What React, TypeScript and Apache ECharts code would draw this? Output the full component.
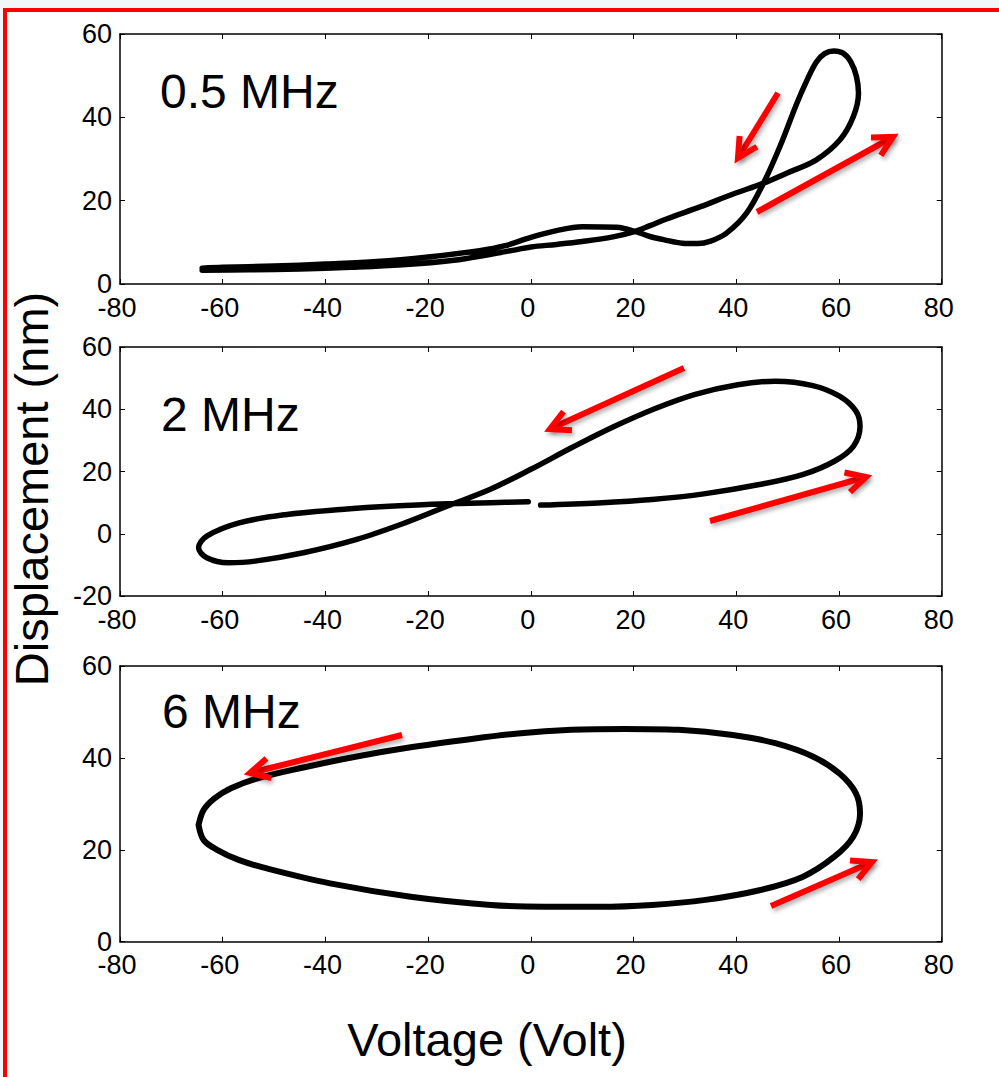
import React, { useEffect, useRef } from "react";
import * as echarts from "echarts";

// ---------- data ----------
// 0.5 MHz loop (voltage in V, displacement in nm), in acquisition order
const volt05 = [-64, -55, -45, -35, -25, -15, -8, -3, 0, 5, 10, 16, 20, 23.2, 26.4, 32.9, 39.4, 45.3, 49.8, 55.6, 60.2, 62.8, 63.8, 63.4, 62.3, 60.8, 59, 57.2, 55.6, 53.8, 51.8, 48.5, 45.3, 42, 38.1, 35, 32.5, 29.5, 26, 23.2, 20.6, 16.7, 10, 5, 0, -5, -10, -20, -30, -40, -50, -60, -64];
const disp05 = [3.3, 3.4, 3.6, 4.0, 4.6, 5.7, 7.1, 8.2, 8.9, 9.5, 10.2, 11.3, 12.5, 14.0, 15.6, 18.5, 21.6, 24.2, 26.6, 29.8, 34.6, 40.2, 45.8, 49.8, 53.3, 55.4, 55.9, 55.3, 53.3, 49, 43.4, 33, 24.2, 17, 12.2, 10.3, 9.7, 9.8, 10.6, 11.4, 12.5, 13.6, 13.75, 12.8, 11.2, 9.2, 8.0, 6.5, 5.4, 4.8, 4.3, 4.0, 3.8];

// 2 MHz loop
const volt2 = [1.9, 13.1, 23.6, 34.0, 44.5, 52.9, 59.1, 62.8, 64.1, 63.3, 60.1, 54.9, 47.6, 40.3, 32.0, 24.0, 16.0, 8.0, 0.0, -8.0, -16.1, -24.5, -33.9, -44.3, -53.7, -58.9, -63.1, -64.7, -63.1, -56.8, -47.5, -37.0, -26.6, -16.1, -7.8, -0.5];
const disp2 = [9.2, 9.9, 11.0, 12.9, 15.8, 19.0, 23.3, 28.1, 34.5, 39.4, 44.2, 47.6, 49.0, 47.9, 44.8, 40.1, 34.3, 27.7, 20.7, 14.2, 9.0, 3.5, -1.8, -6.1, -8.8, -9.3, -7.7, -4.5, -0.75, 3.5, 6.2, 7.8, 8.9, 9.6, 9.95, 10.3];

// 6 MHz loop
const volt6 = [-64.7, -63.7, -61.1, -56.9, -51.6, -39.1, -23.4, -7.8, 2.7, 13.2, 23.6, 34.0, 44.5, 52.9, 59.1, 62.8, 64.1, 63.3, 60.1, 54.9, 47.6, 39.3, 28.8, 18.4, 7.9, -2.5, -13.0, -23.4, -33.9, -44.3, -53.7, -58.4, -61.6, -63.7, -64.7];
const disp6 = [25.4, 22.1, 20.0, 17.8, 16.0, 12.7, 9.8, 8.0, 7.6, 7.6, 8.0, 9.1, 11.2, 14.1, 18.5, 22.9, 27.9, 32.3, 36.6, 40.3, 43.2, 45.0, 46.1, 46.3, 46.1, 45.3, 43.9, 42.3, 40.3, 37.9, 35.4, 33.4, 31.2, 28.7, 25.4];

const panelTitles = ["0.5 MHz", "2 MHz", "6 MHz"];
const yMins = [0, -20, 0];
const yMaxs = [60, 60, 60];
const xMin = -80;
const xMax = 80;
const tickStep = 20;
const xName = "Voltage (Volt)";
const yName = "Displacement (nm)";

// ---------- layout / style ----------
const FONT = "'Liberation Sans', Arial, Helvetica, sans-serif";
const GRID_LEFT = 120;
const GRID_WIDTH = 821.7;
const gridBoxes = [
  { top: 34, height: 250 },
  { top: 347, height: 249 },
  { top: 666, height: 275.7 },
];
const lineWidths = [5.5, 5.5, 6];
const titlePos = [
  [160, 91],
  [161, 414.5],
  [162, 711],
];
// arrows: [tail, tip] in pixels
const arrows: number[][][] = [
  [[778, 93], [738, 158]],
  [[757, 212], [893, 137]],
  [[684, 368], [550, 429]],
  [[710, 521], [866, 477]],
  [[402, 735], [250, 773]],
  [[771, 906], [872, 862]],
];

function zip(a: number[], b: number[]) {
  return a.map((v, i) => [v, b[i]]);
}

function arrowHead(tail: number[], tip: number[], len = 22, ang = 0.48) {
  const a = Math.atan2(tail[1] - tip[1], tail[0] - tip[0]);
  return [
    [tip[0] + len * Math.cos(a + ang), tip[1] + len * Math.sin(a + ang)],
    [tip[0], tip[1]],
    [tip[0] + len * Math.cos(a - ang), tip[1] + len * Math.sin(a - ang)],
  ];
}

function buildOption() {
  const seriesData = [zip(volt05, disp05), zip(volt2, disp2), zip(volt6, disp6)];
  const grid: any[] = [];
  const xAxis: any[] = [];
  const yAxis: any[] = [];
  const series: any[] = [];
  const axisLine = { show: true, onZero: false, lineStyle: { color: "#000", width: 1.5 } };
  const axisTick = { show: true, inside: true, length: 5, lineStyle: { color: "#000", width: 1 } };
  gridBoxes.forEach((g, i) => {
    grid.push({ left: GRID_LEFT, top: g.top, width: GRID_WIDTH, height: g.height, show: false, containLabel: false });
    xAxis.push({
      type: "value", gridIndex: i, min: xMin, max: xMax, interval: tickStep, position: "bottom",
      axisLine, axisTick, splitLine: { show: false },
      axisLabel: { show: true, color: "#000", fontSize: 27, fontFamily: FONT, margin: 10, padding: [0, 6, 0, 0] },
    });
    xAxis.push({
      type: "value", gridIndex: i, min: xMin, max: xMax, interval: tickStep, position: "top",
      axisLine, axisTick, splitLine: { show: false }, axisLabel: { show: false },
    });
    yAxis.push({
      type: "value", gridIndex: i, min: yMins[i], max: yMaxs[i], interval: tickStep, position: "left",
      axisLine, axisTick, splitLine: { show: false },
      axisLabel: { show: true, color: "#000", fontSize: 27, fontFamily: FONT, margin: 8, padding: [4, 0, 0, 0] },
    });
    yAxis.push({
      type: "value", gridIndex: i, min: yMins[i], max: yMaxs[i], interval: tickStep, position: "right",
      axisLine, axisTick, splitLine: { show: false }, axisLabel: { show: false },
    });
    series.push({
      type: "line", xAxisIndex: 2 * i, yAxisIndex: 2 * i, data: seriesData[i],
      symbol: "none", showSymbol: false, smooth: 0.35, silent: true,
      lineStyle: { color: "#000", width: lineWidths[i], cap: "round", join: "round" },
    });
  });

  const graphic: any[] = [];
  panelTitles.forEach((t, i) => {
    graphic.push({
      type: "text", x: titlePos[i][0], y: titlePos[i][1], silent: true,
      style: { text: t, fill: "#000", fontSize: 48, fontFamily: FONT, align: "left", textAlign: "left", verticalAlign: "middle", textVerticalAlign: "middle" },
    });
  });
  graphic.push({
    type: "text", x: 487, y: 1039, silent: true,
    style: { text: xName, fill: "#000", fontSize: 47, fontFamily: FONT, align: "center", textAlign: "center", verticalAlign: "middle", textVerticalAlign: "middle" },
  });
  graphic.push({
    type: "text", x: 31, y: 489, rotation: Math.PI / 2, silent: true,
    style: { text: yName, fill: "#000", fontSize: 47, fontFamily: FONT, align: "center", textAlign: "center", verticalAlign: "middle", textVerticalAlign: "middle" },
  });
  const arrowStyle = {
    stroke: "#ff0000", lineWidth: 6, fill: "none",
    shadowBlur: 4, shadowOffsetX: 2, shadowOffsetY: 3, shadowColor: "rgba(0,0,0,0.3)",
  };
  arrows.forEach(([tail, tip]) => {
    graphic.push({
      type: "line", silent: true, z: 10,
      shape: { x1: tail[0], y1: tail[1], x2: tip[0], y2: tip[1] },
      style: { ...arrowStyle },
    });
    graphic.push({
      type: "polyline", silent: true, z: 10,
      shape: { points: arrowHead(tail, tip) },
      style: { ...arrowStyle, lineJoin: "miter" },
    });
  });

  return { animation: false, backgroundColor: "transparent", grid, xAxis, yAxis, series, graphic };
}

export default function App() {
  const ref = useRef<HTMLDivElement>(null);
  useEffect(() => {
    if (!ref.current) return;
    const chart = echarts.init(ref.current, null, { renderer: "svg" });
    chart.setOption(buildOption() as any);
    return () => chart.dispose();
  }, []);
  return (
    <div style={{ position: "fixed", left: 0, top: 0, width: 999, height: 1077, background: "#f1f7f9", overflow: "hidden" }}>
      <div style={{ position: "absolute", left: 3, top: 8, width: 1200, height: 1200, borderTop: "4px solid #ff0000", borderLeft: "4px solid #ff0000", background: "#ffffff" }} />
      <div ref={ref} style={{ position: "absolute", left: 0, top: 0, width: 999, height: 1077 }} />
    </div>
  );
}
